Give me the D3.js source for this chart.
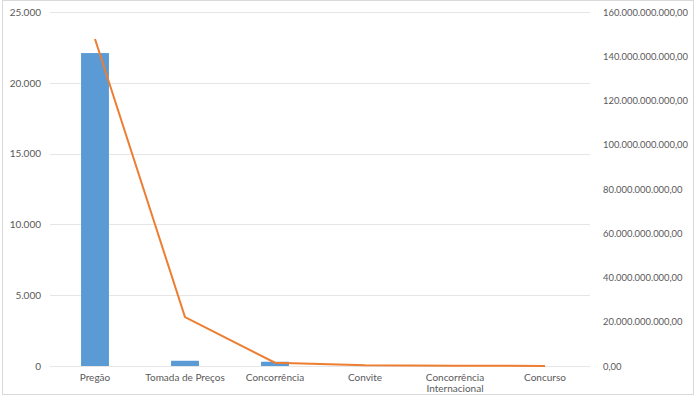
<!DOCTYPE html>
<html lang="pt">
<head>
<meta charset="utf-8">
<title>Licitações por modalidade</title>
<script src="https://d3js.org/d3.v7.min.js"></script>
<style>
  body { margin: 0; background: #fff; }
  text { font-family: Lato, "Open Sans", sans-serif; fill: #595959; }
</style>
</head>
<body>
<div id="chart"></div>
<script>
// modalidades
var categorias = ["Pregão", "Tomada de Preços", "Concorrência", "Convite", "Concorrência Internacional", "Concurso"];
// quantidade (eixo esquerdo, barras)
var quantidade = [22100, 370, 300, 20, 5, 2];
// valor em R$ (eixo direito, linha)
var valor = [147.8e9, 22.1e9, 1.5e9, 0.3e9, 0.15e9, 0.05e9];
var ticksEsq = [0, 5000, 10000, 15000, 20000, 25000];
var ticksDir = [0, 20e9, 40e9, 60e9, 80e9, 100e9, 120e9, 140e9, 160e9];

var W = 700, H = 403;
var svg = d3.select("#chart").append("svg")
  .attr("width", W).attr("height", H);

// moldura do grafico
svg.append("rect")
  .attr("x", 2.5).attr("y", 0.5)
  .attr("width", 691).attr("height", 394)
  .attr("fill", "#fff").attr("stroke", "#d9d9d9");

var x = d3.scaleBand().domain(categorias).range([50, 590])
  .paddingInner(0.69).paddingOuter(0.345);
var yL = d3.scaleLinear().domain([0, 25000]).range([366, 12]);
var yR = d3.scaleLinear().domain([0, 160e9]).range([366, 12]);

var fmtL = function(d) { return d3.format(",")(d).replace(/,/g, "."); };
var fmtR = function(d) {
  return d3.format(",.2f")(d).replace(/,/g, "#").replace(".", ",").replace(/#/g, ".");
};

// linhas de grade
svg.append("g").selectAll("line").data(ticksEsq).enter().append("line")
  .attr("x1", 50).attr("x2", 590)
  .attr("y1", function(d) { return Math.round(yL(d)) + 0.5; })
  .attr("y2", function(d) { return Math.round(yL(d)) + 0.5; })
  .attr("stroke", "#e6e6e6");

// eixo esquerdo
var axL = svg.append("g").attr("transform", "translate(41,0)")
  .call(d3.axisLeft(yL).tickValues(ticksEsq).tickFormat(fmtL).tickSize(0).tickPadding(0));
axL.select(".domain").remove();
axL.selectAll("text").style("font-size", "10px").attr("fill", "#595959");

// eixo direito
var axR = svg.append("g").attr("transform", "translate(603,0)")
  .call(d3.axisRight(yR).tickValues(ticksDir).tickFormat(fmtR).tickSize(0).tickPadding(0));
axR.select(".domain").remove();
axR.selectAll("text").style("font-size", "9.4px").attr("fill", "#595959");

// barras
svg.append("g").selectAll("rect").data(quantidade).enter().append("rect")
  .attr("x", function(d, i) { return x(categorias[i]); })
  .attr("width", x.bandwidth())
  .attr("y", function(d) { return yL(d); })
  .attr("height", function(d) { return yL(0) - yL(d); })
  .attr("fill", "#5b9bd5");

// linha de valor
var line = d3.line()
  .x(function(d, i) { return x(categorias[i]) + x.bandwidth() / 2; })
  .y(function(d) { return yR(d); });
svg.append("path").datum(valor)
  .attr("d", line)
  .attr("fill", "none")
  .attr("stroke", "#ed7d31")
  .attr("stroke-width", 2);

// rotulos das categorias
var lbl = svg.append("g").selectAll("text").data(categorias).enter().append("text")
  .attr("x", function(d) { return x(d) + x.bandwidth() / 2; })
  .attr("y", 381)
  .attr("text-anchor", "middle")
  .style("font-size", "10px");
lbl.each(function(d) {
  var t = d3.select(this);
  var partes = d === "Concorrência Internacional" ? ["Concorrência", "Internacional"] : [d];
  partes.forEach(function(p, k) {
    t.append("tspan").attr("x", t.attr("x")).attr("dy", k === 0 ? 0 : 11).text(p);
  });
});
</script>
</body>
</html>
